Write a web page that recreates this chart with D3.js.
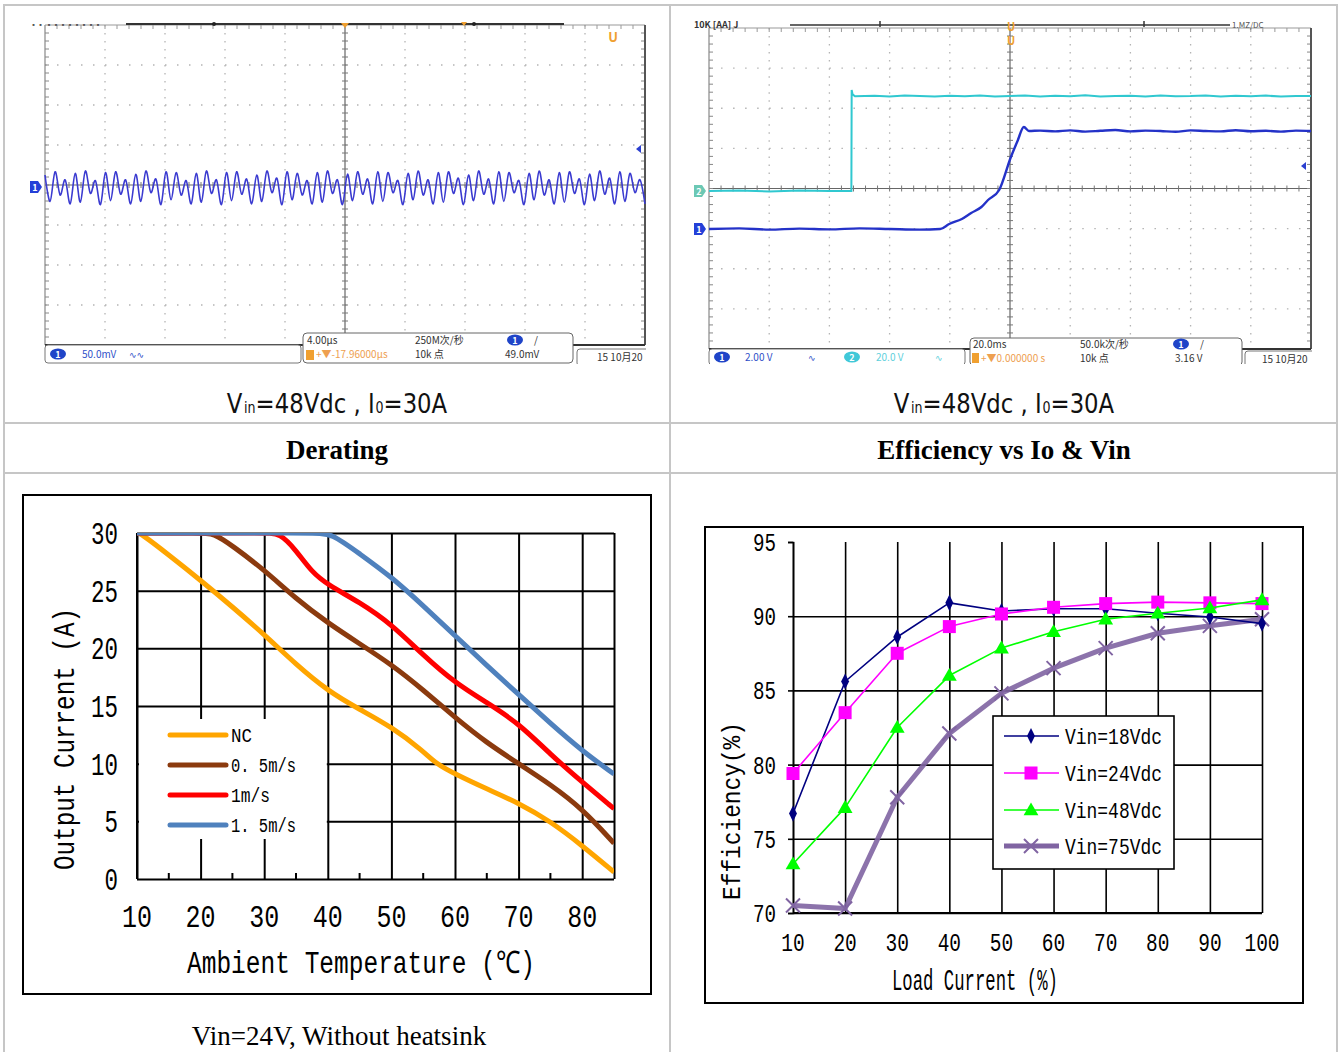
<!DOCTYPE html>
<html><head><meta charset="utf-8">
<script src="https://cdn.jsdelivr.net/npm/d3@7"></script>
<style>html,body{margin:0;padding:0;background:#fff}svg{display:block}</style>
</head><body>
<svg id="c" width="1343" height="1052"></svg>
<script>
// ================= DATA =================
// Ripple scope (ch1, 50 mV/div, 4 us/div) - successive peaks and troughs in mV
const rippleWindowUs = [-20, 20];
const ripplePeaksMv = [15,19,9,17,20,8,18,19,9,16, 20,10,19,18,8,17,20,9,18,19, 10,15,20,11,19,17,8,18,20,9, 16,19,10,19,18,8,17,20,9,18, 19,11,15,20,10,19,18,8,17,20, 9,18,19,10,16,20,11,19,17,9];
const rippleTroughsMv = [-18,-10,-21,-19,-8,-22,-17,-9,-21,-18, -7,-22,-16,-10,-21,-19,-8,-22,-17,-9, -21,-18,-7,-22,-16,-10,-21,-19,-8,-22, -17,-9,-21,-18,-7,-22,-16,-10,-21,-19, -8,-22,-17,-9,-21,-18,-7,-22,-16,-10, -21,-19,-8,-22,-17,-9,-21,-18,-7,-21];

// Start-up scope (20 ms/div): ch2 = input (20 V/div), ch1 = output (2 V/div)
const startWindowMs = [-100, 100];
const ch2Ms = [-100,-90,-80,-70,-60,-52.7,-52.6,-52.3,-51.5,-45,-40,-35,-30,-25,-20,-15,-10,-5,0,5,10,15,20,25,30,35,40,45,50,55,60,65,70,75,80,85,90,95,100];
const ch2V  = [0,0.2,-0.2,0.3,0,0,50.5,48.3,47.4,47.6,47.3,47.7,47.5,47.2,47.6,47.4,47.8,47.3,47.5,47.7,47.2,47.6,47.4,47.9,47.3,47.5,47.6,47.2,47.7,47.4,47.5,47.8,47.3,47.6,47.4,47.7,47.2,47.5,47.5];
const ch1Ms = [-100,-90,-80,-70,-60,-50,-40,-30,-23.2,-20.2,-16,-12.9,-9.5,-7.3,-3.6,0.3,2.5,4.6,6.3,10,15,20,25,30,35,40,45,50,55,60,65,70,75,80,85,90,95,100];
const ch1V  = [0,0.03,-0.03,0.02,-0.02,0.03,0,-0.03,0,0.25,0.5,0.8,1.1,1.45,1.95,3.6,4.4,5.1,4.9,4.92,4.88,4.93,4.87,4.91,4.95,4.88,4.92,4.9,4.86,4.93,4.9,4.88,4.94,4.89,4.91,4.87,4.92,4.9];

// Derating (Vin=24V, without heatsink)
const derSeriesNames = ["NC", "0. 5m/s", "1m/s", "1. 5m/s"];
const derTempNC  = [10,10.5,15,20,25,30,35,40,45,50,55,57,60,65,70,75,80,85];
const derCurNC   = [30,30,28.1,25.9,23.6,21.2,18.6,16.3,14.7,13.2,11.1,10,9.1,7.8,6.6,5.0,2.9,0.6];
const derTemp05  = [10,20,22,25,30,35,40,45,50,55,60,65,70,75,80,85];
const derCur05   = [30,30,30,28.9,26.8,24.3,22.2,20.4,18.6,16.4,14.0,11.8,10.0,8.2,6.1,3.1];
const derTemp10  = [10,30,32.5,35,37.5,40,45,50,55,60,65,70,75,80,85];
const derCur10   = [30,30,30,28.5,26.6,25.5,24.0,22.1,19.4,17.0,15.3,13.5,10.8,8.4,6.1];
const derTemp15  = [10,38,40.5,45,50,55,60,65,70,75,80,85];
const derCur15   = [30,30,30,28.2,26.2,23.7,21.1,18.5,16.0,13.5,11.1,9.1];
const derXTicks = [10,20,30,40,50,60,70,80];
const derYTicks = [0,5,10,15,20,25,30];
const derMinorTicks = [15,25,35,45,55,65,75];

// Efficiency vs Io & Vin
const effLoad = [10,20,30,40,50,60,70,80,90,100];
const effSeriesNames = ["Vin=18Vdc","Vin=24Vdc","Vin=48Vdc","Vin=75Vdc"];
const eff18 = [76.7,85.6,88.6,90.9,90.35,90.5,90.5,90.2,89.95,89.5];
const eff24 = [79.4,83.5,87.5,89.3,90.15,90.6,90.85,90.95,90.9,90.85];
const eff48 = [73.3,77.1,82.5,86.0,87.85,88.95,89.8,90.2,90.55,91.1];
const eff75 = [70.5,70.3,77.8,82.1,84.8,86.5,87.85,88.85,89.35,89.8];
const effXTicks = [10,20,30,40,50,60,70,80,90,100];
const effYTicks = [70,75,80,85,90,95];

// ================= DRAW =================
const svg = d3.select("#c");
const MONO = "'Liberation Mono','DejaVu Sans Mono',monospace";
const SMALL = "'Noto Sans CJK SC','DejaVu Sans',sans-serif";

function txt(g, s, x, y, o = {}) {
  const t = g.append("text").attr("x", x).attr("y", y).text(s)
    .attr("font-family", o.family || MONO)
    .attr("font-size", o.size || 12)
    .attr("fill", o.fill || "#000")
    .attr("text-anchor", o.anchor || "start");
  if (o.weight) t.attr("font-weight", o.weight);
  if (o.len) t.attr("textLength", o.len).attr("lengthAdjust", "spacingAndGlyphs");
  if (o.transform) t.attr("transform", o.transform);
  return t;
}

// ---- table ----
const tbl = svg.append("g").attr("stroke", "#c6c6c6").attr("stroke-width", 2).attr("fill", "none");
tbl.append("rect").attr("x", 4).attr("y", 5).attr("width", 1333).attr("height", 1070);
tbl.append("line").attr("x1", 670).attr("x2", 670).attr("y1", 5).attr("y2", 1052);
tbl.append("line").attr("x1", 4).attr("x2", 1337).attr("y1", 423).attr("y2", 423);
tbl.append("line").attr("x1", 4).attr("x2", 1337).attr("y1", 473).attr("y2", 473);

// ---- scope frame helper ----
function scopeGrid(g, x0, x1, y0, y1) {
  const dx = (x1 - x0) / 10, dy = (y1 - y0) / 8;
  const cx = x0 + 5 * dx, cy = y0 + 4 * dy;
  for (let i = 1; i < 10; i++) if (i !== 5)
    g.append("line").attr("x1", x0 + i * dx).attr("x2", x0 + i * dx).attr("y1", y0).attr("y2", y1)
      .attr("stroke", "#b4b4b4").attr("stroke-width", 1.3).attr("stroke-dasharray", `1.5 ${dy / 5 - 1.5}`);
  for (let j = 1; j < 8; j++) if (j !== 4)
    g.append("line").attr("x1", x0).attr("x2", x1).attr("y1", y0 + j * dy).attr("y2", y0 + j * dy)
      .attr("stroke", "#b4b4b4").attr("stroke-width", 1.3).attr("stroke-dasharray", `1.5 ${dx / 5 - 1.5}`);
  g.append("line").attr("x1", cx).attr("x2", cx).attr("y1", y0).attr("y2", y1).attr("stroke", "#666").attr("stroke-width", 1.2);
  g.append("line").attr("x1", x0).attr("x2", x1).attr("y1", cy).attr("y2", cy).attr("stroke", "#666").attr("stroke-width", 1.2);
  for (let k = 1; k < 40; k++) {
    const y = y0 + k * dy / 5;
    g.append("line").attr("x1", cx - 3).attr("x2", cx + 3).attr("y1", y).attr("y2", y).attr("stroke", "#777");
    g.append("line").attr("x1", x0).attr("x2", x0 + 4).attr("y1", y).attr("y2", y).attr("stroke", "#888");
    g.append("line").attr("x1", x1 - 4).attr("x2", x1).attr("y1", y).attr("y2", y).attr("stroke", "#888");
  }
  for (let k = 1; k < 50; k++) {
    const x = x0 + k * dx / 5;
    g.append("line").attr("x1", x).attr("x2", x).attr("y1", cy - 3).attr("y2", cy + 3).attr("stroke", "#777");
    g.append("line").attr("x1", x).attr("x2", x).attr("y1", y0).attr("y2", y0 + 4).attr("stroke", "#999");
  }
  g.append("line").attr("x1", x0).attr("x2", x0).attr("y1", y0).attr("y2", y1).attr("stroke", "#888").attr("stroke-width", 1.2);
  g.append("line").attr("x1", x0).attr("x2", x1).attr("y1", y0).attr("y2", y0).attr("stroke", "#999").attr("stroke-width", 1.2);
  g.append("line").attr("x1", x1).attr("x2", x1).attr("y1", y0).attr("y2", y1).attr("stroke", "#555").attr("stroke-width", 2);
  g.append("line").attr("x1", x0).attr("x2", x1).attr("y1", y1).attr("y2", y1).attr("stroke", "#333").attr("stroke-width", 2);
}
function chMarker(g, x, y, label, color) {
  g.append("path").attr("d", `M${x},${y - 6}h8l4,6l-4,6h-8z`).attr("fill", color);
  txt(g, label, x + 5, y + 4, { family: SMALL, size: 9, fill: "#fff", anchor: "middle", weight: "bold" });
}
function circleTag(g, x, y, label, color) {
  g.append("ellipse").attr("cx", x).attr("cy", y).attr("rx", 8).attr("ry", 5.5).attr("fill", color);
  txt(g, label, x, y + 4, { family: SMALL, size: 9, fill: "#fff", anchor: "middle", weight: "bold" });
}
function leftArrow(g, x, y) {
  g.append("path").attr("d", `M${x},${y}l5,-4v8z`).attr("fill", "#2b3fd0");
}

// ---- Scope 1: ripple ----
{
  const g = svg.append("g");
  const x0 = 45, x1 = 645, y0 = 25, y1 = 345;
  scopeGrid(g, x0, x1, y0, y1);
  const xs = d3.scaleLinear(rippleWindowUs, [x0, x1]);
  const ys = d3.scaleLinear([-50, 50], [187 + 40, 187 - 40]);
  const verts = [];
  ripplePeaksMv.forEach((p, i) => { verts.push(p); verts.push(rippleTroughsMv[i]); });
  const n = verts.length;
  const pts = verts.map((v, i) => [rippleWindowUs[0] + i * (rippleWindowUs[1] - rippleWindowUs[0]) / (n - 1), v]);
  g.append("path").datum(pts)
    .attr("d", d3.line().x(d => xs(d[0])).y(d => ys(d[1])).curve(d3.curveCardinal))
    .attr("fill", "none").attr("stroke", "#3a3ad0").attr("stroke-width", 1.6);
  chMarker(g, 30, 187, "1", "#2440d8");
  leftArrow(g, 636, 149);
  g.append("line").attr("x1", 126).attr("x2", 564).attr("y1", 24).attr("y2", 24).attr("stroke", "#333").attr("stroke-width", 2);
  g.append("circle").attr("cx", 214).attr("cy", 24).attr("r", 2).attr("fill", "#222");
  g.append("circle").attr("cx", 474).attr("cy", 24).attr("r", 2).attr("fill", "#222");
  g.append("path").attr("d", "M341,23h8l-4,5z").attr("fill", "#f0a030");
  g.append("path").attr("d", "M461,22h6l-3,4z").attr("fill", "#f0a030");
  txt(g, "▪▪ ▪▪▪▪▪▪▪▪", 30, 27, { family: SMALL, size: 7, fill: "#555" });
  txt(g, "U", 613, 42, { family: SMALL, size: 13, fill: "#f0a030", anchor: "middle", weight: "bold" });
  g.append("rect").attr("x", 45).attr("y", 345).attr("width", 256).attr("height", 18).attr("rx", 3).attr("fill", "#fff").attr("stroke", "#777");
  circleTag(g, 58, 354, "1", "#1f44c8");
  txt(g, "50.0mV", 82, 358, { family: SMALL, size: 10, fill: "#3050c8" });
  txt(g, "∿∿", 129, 358, { family: "'DejaVu Sans'", size: 9, fill: "#3050c8" });
  g.append("rect").attr("x", 303).attr("y", 333).attr("width", 270).attr("height", 30).attr("rx", 4).attr("fill", "#fff").attr("stroke", "#666");
  txt(g, "4.00μs", 307, 344, { family: SMALL, size: 10, fill: "#333" });
  txt(g, "250M次/秒", 415, 344, { family: SMALL, size: 10, fill: "#333" });
  circleTag(g, 515, 340, "1", "#1f44c8");
  txt(g, "/", 534, 344, { family: SMALL, size: 10, fill: "#333" });
  g.append("rect").attr("x", 306).attr("y", 350).attr("width", 8).attr("height", 10).attr("fill", "#f0a030");
  txt(g, "+▼-17.96000μs", 316, 358, { family: SMALL, size: 10, fill: "#eea050" });
  txt(g, "10k 点", 415, 358, { family: SMALL, size: 10, fill: "#333" });
  txt(g, "49.0mV", 505, 358, { family: SMALL, size: 10, fill: "#333" });
  g.append("rect").attr("x", 577).attr("y", 349).attr("width", 75).attr("height", 17).attr("rx", 3).attr("fill", "#fff").attr("stroke", "#777");
  txt(g, "15 10月20", 597, 361, { family: SMALL, size: 10, fill: "#333" });
  g.append("rect").attr("x", 646).attr("y", 340).attr("width", 23).attr("height", 30).attr("fill", "#fff");
}

// ---- Scope 2: start-up ----
{
  const g = svg.append("g");
  const x0 = 709, x1 = 1311, y0 = 28, y1 = 349;
  scopeGrid(g, x0, x1, y0, y1);
  const xs = d3.scaleLinear(startWindowMs, [x0, x1]);
  const y2 = d3.scaleLinear([0, 20], [191, 191 - 40]);
  const y1s = d3.scaleLinear([0, 2], [229, 229 - 40]);
  g.append("path").datum(ch2Ms.map((t, i) => [t, ch2V[i]]))
    .attr("d", d3.line().x(d => xs(d[0])).y(d => y2(d[1])))
    .attr("fill", "none").attr("stroke", "#30c8d0").attr("stroke-width", 2);
  g.append("path").datum(ch1Ms.map((t, i) => [t, ch1V[i]]))
    .attr("d", d3.line().x(d => xs(d[0])).y(d => y1s(d[1])).curve(d3.curveMonotoneX))
    .attr("fill", "none").attr("stroke", "#2432c8").attr("stroke-width", 2.4);
  chMarker(g, 694, 229, "1", "#2440d8");
  chMarker(g, 694, 191, "2", "#6cc8b4");
  leftArrow(g, 1301, 166);
  g.append("line").attr("x1", 790).attr("x2", 1230).attr("y1", 25).attr("y2", 25).attr("stroke", "#333").attr("stroke-width", 1.6);
  g.append("line").attr("x1", 880).attr("x2", 880).attr("y1", 21).attr("y2", 27).attr("stroke", "#333").attr("stroke-width", 1.5);
  g.append("line").attr("x1", 1144).attr("x2", 1144).attr("y1", 21).attr("y2", 27).attr("stroke", "#333").attr("stroke-width", 1.5);
  txt(g, "10K [AA] J", 694, 28, { family: SMALL, size: 9, fill: "#333", weight: "bold" });
  txt(g, "1.MZ/DC", 1232, 28, { family: SMALL, size: 8, fill: "#555" });
  txt(g, "U", 1011, 31, { family: SMALL, size: 11, fill: "#f0a030", anchor: "middle", weight: "bold" });
  txt(g, "U", 1011, 45, { family: SMALL, size: 11, fill: "#f0a030", anchor: "middle", weight: "bold" });
  g.append("rect").attr("x", 709).attr("y", 349).attr("width", 256).attr("height", 16).attr("rx", 3).attr("fill", "#fff").attr("stroke", "#777");
  circleTag(g, 722, 357, "1", "#1f44c8");
  txt(g, "2.00 V", 745, 361, { family: SMALL, size: 10, fill: "#3050c8" });
  txt(g, "∿", 808, 361, { family: "'DejaVu Sans'", size: 9, fill: "#3050c8" });
  circleTag(g, 852, 357, "2", "#40c8d8");
  txt(g, "20.0 V", 876, 361, { family: SMALL, size: 10, fill: "#60d0dc" });
  txt(g, "∿", 935, 361, { family: "'DejaVu Sans'", size: 9, fill: "#60d0dc" });
  g.append("rect").attr("x", 970).attr("y", 338).attr("width", 272).attr("height", 28).attr("rx", 4).attr("fill", "#fff").attr("stroke", "#666");
  txt(g, "20.0ms", 973, 348, { family: SMALL, size: 10, fill: "#333" });
  txt(g, "50.0k次/秒", 1080, 348, { family: SMALL, size: 10, fill: "#333" });
  circleTag(g, 1181, 344, "1", "#1f44c8");
  txt(g, "/", 1200, 348, { family: SMALL, size: 10, fill: "#333" });
  g.append("rect").attr("x", 972).attr("y", 353).attr("width", 7).attr("height", 10).attr("fill", "#f0a030");
  txt(g, "+▼0.000000 s", 981, 362, { family: SMALL, size: 10, fill: "#eea050" });
  txt(g, "10k 点", 1080, 362, { family: SMALL, size: 10, fill: "#333" });
  txt(g, "3.16 V", 1175, 362, { family: SMALL, size: 10, fill: "#333" });
  g.append("rect").attr("x", 1245).attr("y", 351).attr("width", 70).attr("height", 16).attr("rx", 3).attr("fill", "#fff").attr("stroke", "#777");
  txt(g, "15 10月20", 1262, 363, { family: SMALL, size: 10, fill: "#333" });
  g.append("rect").attr("x", 1312).attr("y", 345).attr("width", 24).attr("height", 30).attr("fill", "#fff");
  g.append("rect").attr("x", 690).attr("y", 364).attr("width", 640).attr("height", 8).attr("fill", "#fff");
  g.append("rect").attr("x", 20).attr("y", 364).attr("width", 640).attr("height", 6).attr("fill", "#fff");
}

// ---- captions (single text, squeezed horizontally) ----
function caption(cx) {
  const t = svg.append("text").attr("x", 0).attr("y", 0).attr("text-anchor", "middle")
    .attr("font-family", "'DejaVu Sans','Liberation Sans',sans-serif")
    .attr("font-size", 27).attr("fill", "#111")
    .attr("transform", `translate(${cx},413)`);
  t.append("tspan").text("V");
  t.append("tspan").attr("font-size", 15).attr("dx", 2).text("in");
  t.append("tspan").text("=48Vdc , I");
  t.append("tspan").attr("font-size", 15).attr("dx", 1).text("0");
  t.append("tspan").text("=30A");
  const w = t.node().getComputedTextLength();
  t.attr("transform", `translate(${cx},413) scale(${218 / w},1)`);
}
caption(337); caption(1004);

// ---- headers ----
const SERIF = "'Liberation Serif','Times New Roman',serif";
txt(svg, "Derating", 337, 459, { family: SERIF, size: 27, weight: "bold", anchor: "middle" });
txt(svg, "Efficiency vs Io & Vin", 1004, 459, { family: SERIF, size: 27, weight: "bold", anchor: "middle" });
txt(svg, "Vin=24V, Without heatsink", 339, 1045, { family: SERIF, size: 27, anchor: "middle" });

// ---- Derating chart ----
{
  const g = svg.append("g");
  g.append("rect").attr("x", 23).attr("y", 495).attr("width", 628).attr("height", 499)
    .attr("fill", "#fff").attr("stroke", "#000").attr("stroke-width", 2);
  const x = d3.scaleLinear([10, 85], [137, 614]);
  const y = d3.scaleLinear([0, 30], [879, 533]);
  g.append("g").attr("transform", `translate(0,${y(0)})`)
    .call(d3.axisBottom(x).tickValues(derXTicks.concat([85])).tickSize(-(y(0) - y(30))).tickFormat(""))
    .call(a => a.select(".domain").remove())
    .selectAll("line").attr("stroke", "#000").attr("stroke-width", 2);
  g.append("g").attr("transform", `translate(${x(10)},0)`)
    .call(d3.axisLeft(y).tickValues(derYTicks).tickSize(-(x(85) - x(10))).tickFormat(""))
    .call(a => a.select(".domain").remove())
    .selectAll("line").attr("stroke", "#000").attr("stroke-width", 2);
  g.selectAll(".minor").data(derMinorTicks).enter().append("line")
    .attr("x1", d => x(d)).attr("x2", d => x(d)).attr("y1", y(0)).attr("y2", y(0) - 6)
    .attr("stroke", "#000").attr("stroke-width", 2);
  g.append("rect").attr("x", x(10) + 2).attr("y", 719).attr("width", x(40) - x(10) - 3).attr("height", 120).attr("fill", "#fff");
  g.append("line").attr("x1", x(10)).attr("x2", x(10)).attr("y1", y(30)).attr("y2", y(0)).attr("stroke", "#000").attr("stroke-width", 2);
  g.append("clipPath").attr("id", "derClip").append("rect")
    .attr("x", x(10)).attr("y", y(30)).attr("width", x(85) - x(10)).attr("height", y(0) - y(30));
  const colors = ["#FFA500", "#8B3A0E", "#FF0000", "#4F81BD"];
  const series = [[derTempNC, derCurNC], [derTemp05, derCur05], [derTemp10, derCur10], [derTemp15, derCur15]];
  const line = d3.line().x(d => x(d[0])).y(d => y(d[1])).curve(d3.curveBasis);
  const cg = g.append("g").attr("clip-path", "url(#derClip)");
  series.forEach((s, i) => {
    cg.append("path").datum(s[0].map((t, k) => [t, s[1][k]]))
      .attr("d", line).attr("fill", "none").attr("stroke", colors[i])
      .attr("stroke-width", 5).attr("stroke-linejoin", "round");
  });
  const legY = [735, 765, 795, 825];
  const legLen = [21, 65, 39, 65];
  derSeriesNames.forEach((nm, i) => {
    g.append("line").attr("x1", 170).attr("x2", 226).attr("y1", legY[i]).attr("y2", legY[i])
      .attr("stroke", colors[i]).attr("stroke-width", 5).attr("stroke-linecap", "round");
    txt(g, nm, 231, legY[i] + 7, { size: 20, len: legLen[i] });
  });
  derYTicks.forEach(v => txt(g, String(v), 118, y(v) + 11, { size: 32, anchor: "end", len: String(v).length * 13.5 }));
  derXTicks.forEach(v => txt(g, String(v), x(v), 927, { size: 32, anchor: "middle", len: 30 }));
  txt(g, "Ambient Temperature (℃)", 361, 973, { size: 31, anchor: "middle", len: 348 });
  txt(g, "Output Current (A)", 0, 0, { size: 30, anchor: "middle", len: 262, transform: "translate(74,739) rotate(-90)" });
}

// ---- Efficiency chart ----
{
  const g = svg.append("g");
  g.append("rect").attr("x", 705).attr("y", 527).attr("width", 598).attr("height", 476)
    .attr("fill", "#fff").attr("stroke", "#000").attr("stroke-width", 2);
  const x = d3.scaleLinear([10, 100], [793, 1262]);
  const y = d3.scaleLinear([70, 95], [913, 542]);
  g.append("g").attr("transform", `translate(0,${y(70)})`)
    .call(d3.axisBottom(x).tickValues(effXTicks).tickSize(-(y(70) - y(95))).tickFormat(""))
    .call(a => a.select(".domain").remove())
    .selectAll("line").attr("stroke", "#000").attr("stroke-width", 1.6);
  g.append("g").attr("transform", `translate(${x(10)},0)`)
    .call(d3.axisLeft(y).tickValues(effYTicks.filter(v => v < 95)).tickSize(-(x(100) - x(10))).tickFormat(""))
    .call(a => a.select(".domain").remove())
    .selectAll("line").attr("stroke", "#000").attr("stroke-width", 1.6);
  g.append("g").attr("transform", `translate(${x(10)},0)`)
    .call(d3.axisLeft(y).tickValues(effYTicks).tickSize(5).tickFormat(""))
    .call(a => a.select(".domain").attr("stroke-width", 1.6))
    .selectAll("line").attr("stroke", "#000").attr("stroke-width", 1.6);
  g.append("line").attr("x1", x(10)).attr("x2", x(100)).attr("y1", y(70)).attr("y2", y(70)).attr("stroke", "#000").attr("stroke-width", 2);

  const cols = ["#000080", "#FF00FF", "#00FF00", "#8064A2"];
  const data = [eff18, eff24, eff48, eff75];
  const line = d3.line().x(d => x(d[0])).y(d => y(d[1]));
  const marker = (sel, i, cx, cy) => {
    if (i === 0) sel.append("path").attr("d", d3.symbol(d3.symbolDiamond, 75)()).attr("transform", `translate(${cx},${cy}) scale(0.85,1)`).attr("fill", cols[0]);
    else if (i === 1) sel.append("rect").attr("x", cx - 6.5).attr("y", cy - 6.5).attr("width", 13).attr("height", 13).attr("fill", cols[1]);
    else if (i === 2) sel.append("path").attr("d", d3.symbol(d3.symbolTriangle, 95)()).attr("transform", `translate(${cx},${cy + 1})`).attr("fill", cols[2]);
    else sel.append("path").attr("d", "M-7,-7L7,7M-7,7L7,-7").attr("transform", `translate(${cx},${cy})`).attr("stroke", "#8064A2").attr("stroke-width", 2).attr("fill", "none");
  };
  [3, 0, 1, 2].forEach(i => {
    const sg = g.append("g");
    sg.append("path").datum(effLoad.map((l, k) => [l, data[i][k]])).attr("d", line)
      .attr("fill", "none").attr("stroke", cols[i]).attr("stroke-width", i === 3 ? 5 : 1.6)
      .attr("stroke-opacity", i === 3 ? 0.9 : 1).attr("stroke-linejoin", "round");
    effLoad.forEach((l, k) => marker(sg, i, x(l), y(data[i][k])));
  });
  g.append("rect").attr("x", 993).attr("y", 716).attr("width", 181).attr("height", 153)
    .attr("fill", "#fff").attr("stroke", "#000").attr("stroke-width", 1.6);
  const ly = [736, 773, 810, 846];
  effSeriesNames.forEach((nm, i) => {
    g.append("line").attr("x1", 1004).attr("x2", 1059).attr("y1", ly[i]).attr("y2", ly[i])
      .attr("stroke", cols[i]).attr("stroke-width", i === 3 ? 5 : 1.6);
    marker(g, i, 1031, ly[i]);
    txt(g, nm, 1065, ly[i] + 8, { size: 22, len: 97 });
  });
  effYTicks.forEach(v => txt(g, String(v), 776, y(v) + 9, { size: 25, anchor: "end", len: 23 }));
  effXTicks.forEach(v => txt(g, String(v), x(v), 951, { size: 25, anchor: "middle", len: String(v).length * 11.7 }));
  txt(g, "Load Current (%)", 975, 990, { size: 29, anchor: "middle", len: 166 });
  txt(g, "Efficiency(%)", 0, 0, { size: 26, anchor: "middle", len: 178, transform: "translate(740,811) rotate(-90)" });
}
</script>
</body></html>
